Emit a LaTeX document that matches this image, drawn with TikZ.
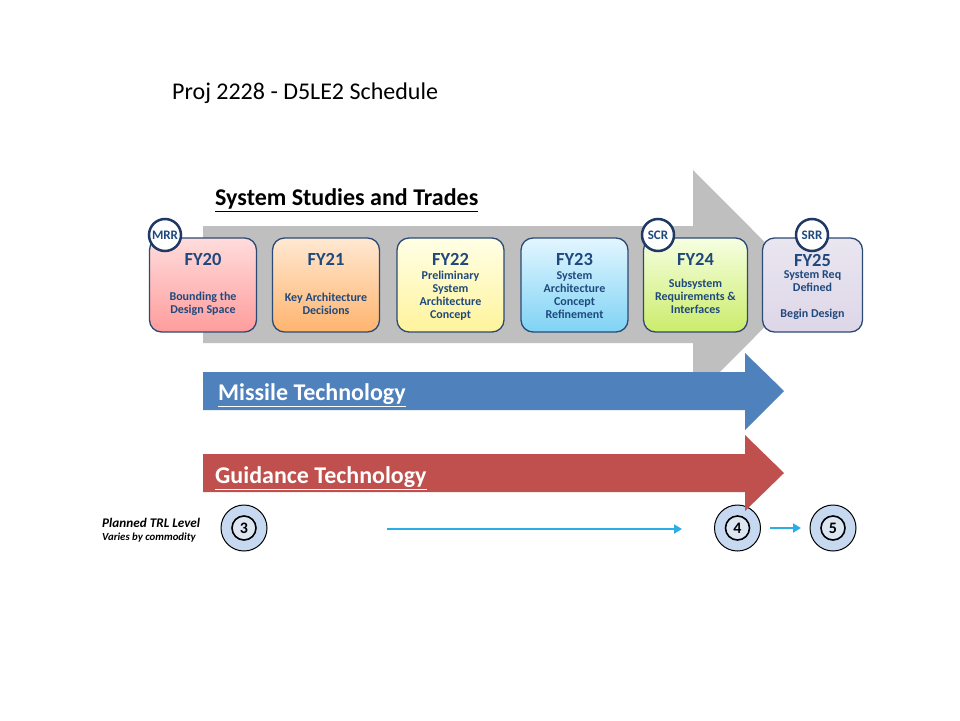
\documentclass[tikz,border=0pt]{standalone}
\usepackage{fontspec}
\setmainfont{Carlito}
\newcommand{\thickul}[1]{\leavevmode\vtop{\hbox{#1}\kern1.8pt\hrule height 1.4pt}}
\usetikzlibrary{arrows.meta}
\definecolor{boxtext}{HTML}{1F497D}
\definecolor{boxborder}{HTML}{2C4A74}
\definecolor{revborder}{HTML}{1F3864}
\definecolor{grayarrow}{HTML}{BFBFBF}
\definecolor{bluearrow}{HTML}{4F81BD}
\definecolor{redarrow}{HTML}{C0504D}
\definecolor{trlfill}{HTML}{C6D9F1}
\definecolor{trlin}{HTML}{DCE6F2}
\definecolor{cyanline}{HTML}{2BAEE6}
\definecolor{aTop}{HTML}{FFDCDC}\definecolor{aBot}{HTML}{FF9C9C}
\definecolor{bTop}{HTML}{FFE8D2}\definecolor{bBot}{HTML}{FFB46E}
\definecolor{cTop}{HTML}{FFFFE6}\definecolor{cBot}{HTML}{FFF39C}
\definecolor{dTop}{HTML}{E2F6FF}\definecolor{dBot}{HTML}{7FD3F5}
\definecolor{eTop}{HTML}{F6FFE2}\definecolor{eBot}{HTML}{CBEC6A}
\definecolor{fTop}{HTML}{EAE6F0}\definecolor{fBot}{HTML}{DDD6E8}
\begin{document}
\begin{tikzpicture}[x=1pt,y=-1pt,
  fybox/.style={draw=boxborder, line width=1.3pt, rounded corners=12pt,
    minimum width=107pt, minimum height=94pt, inner sep=0pt},
  fyhead/.style={text=boxtext, font=\bfseries\fontsize{18.5}{20}\selectfont, inner sep=0pt},
  fydesc/.style={text=boxtext, font=\bfseries\fontsize{12}{13}\selectfont, align=center, inner sep=0pt},
  review/.style={circle, draw=revborder, line width=2.5pt, fill=white, minimum size=32pt,
    inner sep=0pt, text=boxtext, font=\bfseries\fontsize{13}{13}\selectfont},
  trlouter/.style={circle, draw=black, line width=1pt, fill=trlfill, minimum size=46pt, inner sep=0pt},
  trlinner/.style={circle, draw=black, line width=1.6pt, fill=trlin, minimum size=24pt, inner sep=0pt,
    font=\bfseries\fontsize{16}{16}\selectfont},
  bigtitle/.style={font=\bfseries\fontsize{24}{26}\selectfont, inner sep=0pt, anchor=base west},
  cyanarrow/.style={draw=cyanline, line width=2.6pt, -{Triangle[length=8pt,width=9pt]}}
]
\useasboundingbox (0,0) rectangle (960,720);
\fill[white] (0,0) rectangle (960,720);

% page title
\node[font=\fontsize{24}{26}\selectfont, inner sep=0pt, anchor=base west] (title) at (172,99) {Proj 2228 - D5LE2 Schedule};

% gray arrow
\fill[grayarrow] (203,226) -- (693,226) -- (693,170) -- (807,284.5) -- (693,399) -- (693,343) -- (203,343) -- cycle;
\node[bigtitle] (sst) at (215,205) {\thickul{System Studies and Trades}};

% FY boxes
\node[fybox, top color=aTop, bottom color=aBot] (fy20) at (203,285) {};
\node[fybox, top color=bTop, bottom color=bBot] (fy21) at (326,285) {};
\node[fybox, top color=cTop, bottom color=cBot] (fy22) at (450.5,285) {};
\node[fybox, top color=dTop, bottom color=dBot] (fy23) at (574.5,285) {};
\node[fybox, top color=eTop, bottom color=eBot, minimum width=104pt] (fy24) at (695.5,285) {};
\node[fybox, top color=fTop, bottom color=fBot, minimum width=100pt] (fy25) at (812.5,285) {};

\node[fyhead] (h20) at (203,259) {FY20};
\node[fyhead] (h21) at (326,259) {FY21};
\node[fyhead] (h22) at (450.5,259) {FY22};
\node[fyhead] (h23) at (574.5,259) {FY23};
\node[fyhead] (h24) at (695.5,259) {FY24};
\node[fyhead] (h25) at (812.5,260) {FY25};

\node[fydesc] (d20) at (203,303.5) {Bounding the\\Design Space};
\node[fydesc] (d21) at (326,303.5) {Key Architecture\\Decisions};
\node[fydesc] (d22) at (450.5,295.5) {Preliminary\\System\\Architecture\\Concept};
\node[fydesc] (d23) at (574.5,295.5) {System\\Architecture\\Concept\\Refinement};
\node[fydesc] (d24) at (695.5,296.5) {Subsystem\\Requirements \&\\Interfaces};
\node[fydesc] (d25) at (812.5,295.5) {System Req\\Defined\\[13pt]Begin Design};

% review circles
\node[review] (mrr) at (165,235) {MRR};
\node[review] (scr) at (658,235) {SCR};
\node[review] (srr) at (812,235) {SRR};

% blue arrow
\fill[bluearrow] (203,372) -- (745,372) -- (745,353) -- (784,391) -- (745,430) -- (745,410) -- (203,410) -- cycle;
\node[bigtitle, text=white] (mt) at (218,400) {\thickul{Missile Technology}};

% TRL circles
\node[trlouter] (t3) at (244,528) {};
\node[trlinner] (t3n) at (t3) {3};
\node[trlouter] (t4) at (737.5,528) {};
\node[trlinner] (t4n) at (t4) {4};
\node[trlouter] (t5) at (833,528) {};
\node[trlinner] (t5n) at (t5) {5};

% red arrow
\fill[redarrow] (203,454) -- (745,454) -- (745,435) -- (784,473) -- (745,511) -- (745,492) -- (203,492) -- cycle;
\node[bigtitle, text=white] (gt) at (215,483) {\thickul{Guidance Technology}};

% TRL labels
\node[font=\bfseries\itshape\fontsize{13.2}{13}\selectfont, inner sep=0pt, anchor=base west] (trlA) at (102,527.5) {Planned TRL Level};
\node[font=\bfseries\itshape\fontsize{10.8}{11}\selectfont, inner sep=0pt, anchor=base west] (trlB) at (102,540.5) {Varies by commodity};

% cyan arrows
\coordinate (c1s) at (387,529);
\coordinate (c1e) at (682,529);
\coordinate (c2s) at (770,528);
\coordinate (c2e) at (801,528);
\draw[cyanarrow] (c1s) -- (c1e);
\draw[cyanarrow] (c2s) -- (c2e);
\end{tikzpicture}
\end{document}
